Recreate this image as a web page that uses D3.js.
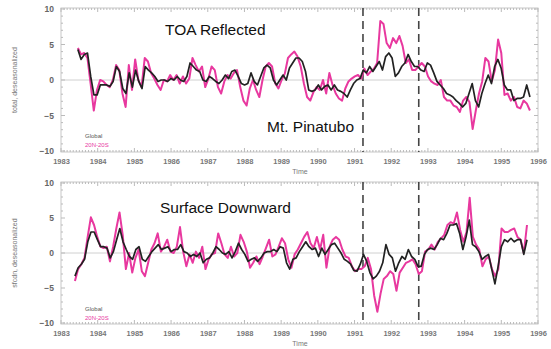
<!DOCTYPE html>
<html>
<head>
<meta charset="utf-8">
<script src="https://cdn.jsdelivr.net/npm/d3@7"></script>
<style>
  body { margin: 0; background: #fff; }
  svg { display: block; font-family: "Liberation Sans", Arial, sans-serif; }
</style>
</head>
<body>
<div id="chart"></div>
<script>
// monthly anomalies (W/m^2, deseasonalized)
const toaStart = 1983.46, toaEnd = 1995.78;
const toaGlobal = [4.3, 2.9, 3.6, 3.8, 0.5, -2.1, -2.1, -0.7, -0.7, -0.7, -0.9, -0.2, 1.9, 1.2, -1.2, -1.9, 1.0, -1.0, 1.4, -0.2, -1.2, 1.9, 1.4, 1.0, 0.5, -0.2, 0, 0, -0.2, 0.2, 0, 0.5, 0, -0.2, 0.5, 2.4, 1.9, 1.4, 1.2, 0, -0.2, 0.5, 0.2, -0.2, -0.5, 0, 0.7, 0.2, 1.2, 1.4, 0.5, -0.5, -0.7, -0.5, 1.0, -0.2, -0.7, 0.5, 1.7, 2.1, 1.7, 0, -0.7, 0, 0.7, 0,
  1.7, 2.4, 3.1, 3.1, 2.6, 1.2, -1.4, -1.6, -1.4, -0.7, -1.4, -0.9, -0.7, -1.4, -0.7, -1.4, -1.6, -1.9, -2.4, -1.4, -0.5, 0, 0.2, 1.4, 1.0, 1.9, 1.2, 1.9, 2.6, 1.4, 3.3, 3.8, 3.1, 0.5, 1.0, 1.9, 2.4, 3.6, 2.6, 1.9, 1.9, 1.4, 1.2, 2.4, 2.1, 1.0, -0.2, -0.7, -1.2, -1.9, -2.1, -2.4, -2.9, -3.3, -3.8, -3.3, -1.9, -0.5, -2.9, -3.8, -1.9, -0.5, 0.7, -0.5, 1.9, 2.9, 1.7, -0.7, -1.4, -1.4, -2.9, -2.6, -2.6, -2.4, -0.7, -2.4];
const toaTropics = [4.5, 3.6, 3.8, 3.1, -0.5, -4.3, -1.4, 0, -0.2, -0.7, -1.0, 0, 2.1, 1.4, -1.9, -3.8, 2.1, -1.4, 2.9, 0, -1.0, 3.1, 2.6, 1.0, 0.2, -0.7, -1.4, 0, -0.2, 0.7, 0, 0.7, -0.5, 0.5, -0.5, 0.2, 3.1, 2.1, 1.2, 1.9, -1.0, 0.2, 1.9, 1.4, -1.0, -1.9, -0.2, 0.7, 0.2, 1.0, 1.4, -1.0, -2.9, -3.6, -1.2, 0, -1.4, -2.4, 0, 1.9, 2.4, 1.9, -0.5, -1.2, 0, 0.9,
  3.1, 3.6, 4.0, 3.3, 1.9, -0.5, -2.4, -2.9, -1.7, -1.0, -1.4, 0, -1.9, 1.0, -0.7, -1.9, -2.6, -2.9, -1.2, -0.2, 0.2, 0.5, 0.7, 0.2, 1.6, 0.7, 1.2, 1.6, 2.4, 8.3, 7.9, 5.2, 4.5, 5.9, 5.2, 6.2, 4.8, 2.4, 2.9, 1.4, 1.4, 1.9, 2.4, 1.9, 0.5, -0.2, -0.5, -0.7, 0, -2.4, -2.9, -2.9, -3.6, -3.8, -4.5, -2.9, -2.4, -3.1, -6.9, -4.3, -1.9, -0.2, 3.1, 2.6, -0.2, 1.4, 5.7, 3.8, -2.1, -1.9, -2.9, -2.4, -3.8, -4.0, -2.9, -3.3, -4.3];

const sfcStart = 1983.38, sfcEnd = 1995.7;
const sfcGlobal = [-3.3, -2.1, -1.6, -0.9, 1.6, 3.0, 3.0, 1.9, 0.9, 0.9, 0.7, -0.7, 0.2, 1.9, 3.5, 1.6, 0.5, -0.5, -0.9, 0.5, 0.9, -0.9, -1.2, -0.5, 0.2, 0.7, 1.2, 0.5, 0.7, 0.9, 0.2, 0.5, 0.5, 1.2, 0.2, 0, -0.5, -0.2, -0.5, 0, -1.4, -0.9, -0.7, 0, 0.9, 0.5, 0, -0.2, 0.2, -0.7, 0.2, 1.4, 0.5, -0.2, -1.2, -0.9, -0.7, -1.2, -0.7, 0, 0.2, 0.2, 0.5, 0.2, 0.9, 0.7,
  -1.4, -2.3, -0.9, -0.7, 0.2, 0.9, 1.6, 0.9, 0.5, 0.7, -0.5, 0.7, -0.2, 0.5, 1.2, 1.4, 0.7, 0, -0.9, -1.2, -1.6, -2.5, -2.6, -1.6, -0.2, -1.2, -2.8, -3.7, -3.3, -2.6, -1.4, 1.2, -0.2, -0.7, -2.6, -1.4, -0.5, -0.9, 0.5, -0.5, -0.9, -1.9, -1.9, -0.2, 0.5, 0.7, 0.5, 1.2, 2.1, 1.9, 2.8, 4.0, 4.0, 4.2, 2.8, 0.5, 2.3, 4.7, 1.2, 0.9, 0.2, -0.9, -0.5, -0.2, -2.3, -4.4, -1.9, 0.9, 1.9, 1.6, 2.1, 1.6, 1.9, 1.9, -0.2, 1.9];
const sfcTropics = [-4.0, -2.3, -1.6, -0.7, 2.3, 5.1, 4.0, 2.3, 0.9, 0.7, 0.9, -1.2, 0.9, 3.5, 5.8, 2.6, -2.3, 0, -2.8, -0.7, 0.5, -2.6, -3.3, -1.4, 0.5, 1.4, 2.8, 0.2, 0.9, 1.9, 0.2, 0, 0.9, 3.7, 0.2, -1.9, -0.2, -1.4, 0.2, -0.7, 0.9, -2.3, -0.9, -0.2, 0, 2.8, 1.4, -0.2, -0.7, 0.9, -0.5, 0, 2.6, 1.6, 0.2, -2.1, -1.4, -0.5, -1.6, -0.5, 0.7, 1.9, -0.5, -0.2, 0.9, 2.1, 1.4,
  -0.9, -2.1, -0.2, 0.5, 1.4, 2.3, 3.0, 1.4, 0.7, 2.3, 0.5, 2.6, -2.1, 0.9, 1.9, 2.3, 1.9, 0.5, -0.5, -0.7, -1.9, -2.6, -2.3, -2.3, -1.9, -0.7, -2.3, -6.1, -8.4, -5.8, -3.7, -3.3, -2.6, -3.0, -5.4, -2.8, -2.1, -1.4, -1.2, -0.9, -1.6, -3.0, -2.6, 0.2, 0.5, 1.2, 0.5, 1.6, 2.1, 2.6, 4.0, 4.4, 4.2, 5.8, 3.3, 1.6, 3.0, 7.9, 2.3, 1.2, 0.5, -1.9, -0.9, -0.5, -2.3, -3.3, -2.3, 3.5, 3.0, 3.0, 3.3, 3.5, 2.3, 1.9, 0, 4.0];

const yearTicks = d3.range(1983, 1997);
const valueTicks = [-10, -5, 0, 5, 10];
const pinatuboSpan = [1991.23, 1992.75];
const seriesNames = ["Global", "20N-20S"];

const W = 551, H = 349;
const svg = d3.select("#chart").append("svg").attr("width", W).attr("height", H);

const x = d3.scaleLinear().domain([1983, 1996]).range([61, 538]);

function panel(top, bottom, glob, trop, t0, t1, title, titlePos, ytitle, legendY) {
  const y = d3.scaleLinear().domain([-10, 10]).range([bottom, top]);
  const g = svg.append("g");

  // frame
  g.append("rect").attr("x", x(1983)).attr("y", top - 1)
    .attr("width", x(1996) - x(1983)).attr("height", bottom - top + 2)
    .attr("fill", "none").attr("stroke", "#c8c8c8").attr("stroke-width", 1);

  // zero line
  g.append("line").attr("x1", x(1983)).attr("x2", x(1996))
    .attr("y1", y(0)).attr("y2", y(0)).attr("stroke", "#d0d0d0");

  // minor / major ticks on all sides
  const months = d3.range(1983, 1996.001, 1 / 12);
  g.append("g").selectAll("line").data(months).join("line")
    .attr("x1", d => x(d)).attr("x2", d => x(d))
    .attr("y1", top - 1).attr("y2", d => top - 1 + (Math.abs(d - Math.round(d)) < 1e-6 ? 4 : 2))
    .attr("stroke", "#bbb");
  g.append("g").selectAll("line").data(months).join("line")
    .attr("x1", d => x(d)).attr("x2", d => x(d))
    .attr("y1", bottom + 1).attr("y2", d => bottom + 1 - (Math.abs(d - Math.round(d)) < 1e-6 ? 4 : 2))
    .attr("stroke", "#bbb");
  const units = d3.range(-10, 11);
  [x(1983), x(1996)].forEach((x0, i) => {
    const dir = i === 0 ? 1 : -1;
    g.append("g").selectAll("line").data(units).join("line")
      .attr("x1", x0).attr("x2", d => x0 + dir * (d % 5 === 0 ? 4 : 2))
      .attr("y1", d => y(d)).attr("y2", d => y(d))
      .attr("stroke", "#bbb");
  });

  // axes labels
  const yAxis = d3.axisLeft(y).tickValues(valueTicks).tickSize(0).tickPadding(7)
    .tickFormat(d3.format("d"));
  g.append("g").attr("transform", `translate(${x(1983)},0)`).call(yAxis)
    .call(s => s.select(".domain").remove())
    .selectAll("text").attr("font-size", 8.5).attr("font-weight", "bold").attr("fill", "#666");
  const xAxis = d3.axisBottom(x).tickValues(yearTicks).tickSize(0).tickPadding(8)
    .tickFormat(d3.format("d"));
  g.append("g").attr("transform", `translate(0,${bottom})`).call(xAxis)
    .call(s => s.select(".domain").remove())
    .selectAll("text").attr("font-size", 7.5).attr("font-weight", "bold").attr("fill", "#777");

  g.append("text").attr("x", 300).attr("y", bottom + 23).attr("text-anchor", "middle")
    .attr("font-size", 7).attr("fill", "#777").text("Time");
  g.append("text").attr("transform", `translate(17,${(top + bottom) / 2}) rotate(-90)`)
    .attr("text-anchor", "middle").attr("font-size", 7).attr("fill", "#777").text(ytitle);

  // pinatubo period
  g.selectAll(".pin").data(pinatuboSpan).join("line")
    .attr("x1", d => x(d)).attr("x2", d => x(d))
    .attr("y1", top - 1).attr("y2", bottom + 1)
    .attr("stroke", "#444").attr("stroke-width", 1.6).attr("stroke-dasharray", "8,5");

  // series
  const line = (vals, a, b) => {
    const step = (b - a) / (vals.length - 1);
    return d3.line().x((d, i) => x(a + i * step)).y(d => y(d))(vals);
  };
  g.append("path").attr("d", line(trop, t0, t1)).attr("fill", "none")
    .attr("stroke", "#e8389f").attr("stroke-width", 2).attr("stroke-linejoin", "round");
  g.append("path").attr("d", line(glob, t0, t1)).attr("fill", "none")
    .attr("stroke", "#222").attr("stroke-width", 1.7).attr("stroke-linejoin", "round");

  // legend
  g.append("text").attr("x", 85).attr("y", legendY).attr("font-size", 6).attr("fill", "#555").text(seriesNames[0]);
  g.append("text").attr("x", 85).attr("y", legendY + 9).attr("font-size", 6).attr("fill", "#e8389f").text(seriesNames[1]);

  // title
  g.append("text").attr("x", titlePos[0]).attr("y", titlePos[1]).attr("font-size", 15.5)
    .attr("fill", "#111").text(title);
  return g;
}

panel(9, 151, toaGlobal, toaTropics, toaStart, toaEnd, "TOA Reflected", [165, 35],
  "total, deseasonalized", 138);
panel(183, 323, sfcGlobal, sfcTropics, sfcStart, sfcEnd, "Surface Downward", [160, 213],
  "sfcdn, deseasonalized", 311);

svg.append("text").attr("x", 267).attr("y", 132).attr("font-size", 15.5)
  .attr("fill", "#111").text("Mt. Pinatubo");
</script>
</body>
</html>
